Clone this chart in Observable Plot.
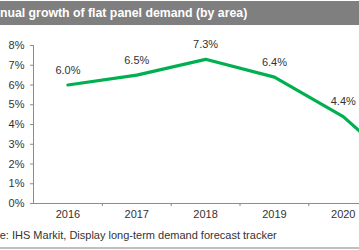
<!DOCTYPE html>
<html>
<head>
<meta charset="utf-8">
<script src="https://cdn.jsdelivr.net/npm/d3@7"></script>
<script src="https://cdn.jsdelivr.net/npm/@observablehq/plot@0.6"></script>
<style>
  html, body { margin: 0; padding: 0; background: #fff; }
  #frame {
    position: relative; width: 359px; height: 250px; overflow: hidden;
    font-family: "Liberation Sans", Arial, sans-serif; background: #fff;
  }
  #title {
    position: absolute; left: 0; top: 1px; width: 359px; height: 24px;
    background: #7f7f7f; color: #fff; font-weight: bold; font-size: 12.3px;
    line-height: 24px; white-space: nowrap;
  }
  #title span { position: absolute; left: -16.5px; }
  #chart { position: absolute; left: 0; top: 25px; width: 446px; }
  #chart svg { max-width: none; }
  #source {
    position: absolute; left: -29px; top: 229px; font-size: 11px; line-height: 12px; color: #333;
    white-space: nowrap;
  }
  #rule { position: absolute; left: 0; top: 247px; width: 359px; height: 2px; background: #bfbfbf; }
</style>
</head>
<body>
<div id="frame">
  <div id="title"><span>Annual growth of flat panel demand (by area)</span></div>
  <div id="chart"></div>
  <div id="source">Source: IHS Markit, Display long-term demand forecast tracker</div>
  <div id="rule"></div>
</div>
<script>
// Annual growth of flat panel demand, percent
const years = [2016, 2017, 2018, 2019, 2020, 2021];
const growth = [6.0, 6.5, 7.3, 6.4, 4.4, 1.3];
const yTicks = [0, 1, 2, 3, 4, 5, 6, 7, 8];
// years that fall inside the visible window get a tick label and a value label
const shownYears = [2016, 2017, 2018, 2019, 2020];

const data = years.map((year, i) => ({year, value: growth[i]}));
const labelled = data.filter(d => shownYears.includes(d.year));
// category boundaries between years, where the axis ticks sit
const bounds = years.slice(0, -1).map(y => y + 0.5);

const axisColor = "#8c8c8c";
const textColor = "#333";

const plot = Plot.plot({
  width: 446,
  height: 200,
  marginLeft: 33,
  marginRight: 0,
  marginTop: 20,
  marginBottom: 22,
  style: {fontFamily: "Liberation Sans, Arial, sans-serif", fontSize: "11px", color: textColor, background: "transparent", maxWidth: "none"},
  x: {type: "linear", domain: [2015.5, 2021.5]},
  y: {domain: [0, 8]},
  marks: [
    Plot.axisY({ticks: yTicks, tickFormat: d => d + "%", tickSize: 3, tickPadding: 6, stroke: axisColor, fill: textColor, label: null, fontSize: 11}),
    Plot.ruleX([2015.5], {stroke: axisColor}),
    Plot.axisX({ticks: bounds, tickFormat: () => "", tickSize: 3, stroke: axisColor, label: null}),
    Plot.axisX({ticks: shownYears, tickFormat: d => String(d), tickSize: 0, tickPadding: 7, fill: textColor, label: null, fontSize: 11}),
    Plot.ruleY([0], {stroke: axisColor}),
    Plot.line(data, {x: "year", y: "value", stroke: "#00b050", strokeWidth: 3.2}),
    Plot.text(labelled, {x: "year", y: "value", text: d => d.value.toFixed(1) + "%", dy: -15, fill: textColor, fontSize: 11})
  ]
});
document.getElementById("chart").appendChild(plot);
</script>
</body>
</html>
